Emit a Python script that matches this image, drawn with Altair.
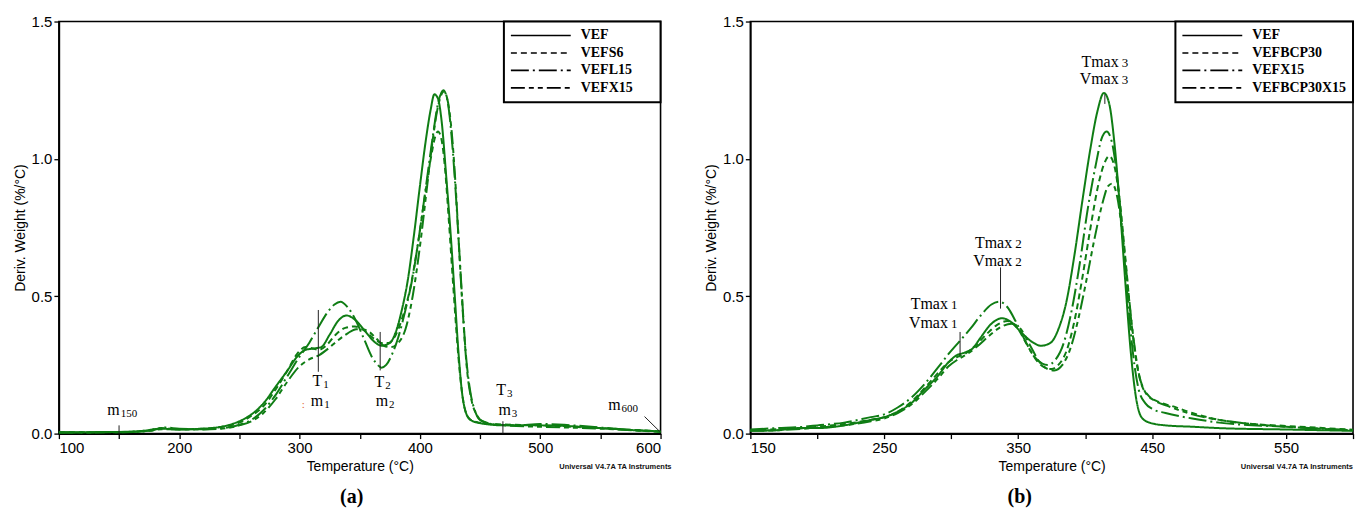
import altair as alt
import pandas as pd

GREEN = "#0f7d14"

# ---------------- Panel (a) data ----------------
A_SERIES = ["VEF", "VEFS6", "VEFL15", "VEFX15"]
DASHES = [[1, 0], [6, 4], [18, 4, 2, 4], [14, 4, 5, 4, 5, 4]]

a_T_vef = [100, 150, 170, 185, 200, 220, 240, 250, 260, 270, 280, 290, 298, 305, 312, 318, 325, 332, 339, 346,
           355, 362, 368, 375, 380, 385, 390, 395, 400, 405, 409, 412, 415, 418, 422, 426, 429, 432, 435, 438,
           442, 450, 470, 500, 520, 550, 580, 600]
a_v_vef = [0.005, 0.006, 0.01, 0.018, 0.015, 0.018, 0.03, 0.045, 0.07, 0.11, 0.17, 0.23, 0.28, 0.305, 0.31,
           0.315, 0.36, 0.41, 0.43, 0.415, 0.37, 0.335, 0.32, 0.33, 0.37, 0.45, 0.56, 0.72, 0.9, 1.07,
           1.18, 1.235, 1.22, 1.14, 0.93, 0.7, 0.5, 0.3, 0.15, 0.08, 0.05, 0.038, 0.03, 0.03, 0.028,
           0.02, 0.012, 0.008]

a_T_s6 = [100, 150, 175, 185, 200, 220, 240, 250, 260, 270, 280, 290, 298, 305, 311, 316, 322, 330, 338, 346,
          354, 362, 368, 374, 380, 386, 392, 398, 404, 409, 413, 415, 418, 421, 424, 428, 432, 436, 440, 445,
          460, 500, 550, 600]
a_v_s6 = [0.005, 0.006, 0.012, 0.02, 0.016, 0.018, 0.028, 0.04, 0.065, 0.1, 0.16, 0.23, 0.29, 0.315, 0.31,
          0.305, 0.32, 0.36, 0.385, 0.39, 0.375, 0.345, 0.33, 0.33, 0.36, 0.43, 0.53, 0.68, 0.86, 1.0,
          1.085, 1.1, 1.07, 0.96, 0.78, 0.52, 0.28, 0.12, 0.06, 0.045, 0.035, 0.03, 0.02, 0.008]

a_T_l15 = [100, 150, 175, 188, 200, 220, 240, 250, 260, 270, 280, 290, 300, 308, 316, 323, 329, 334, 340, 347,
           354, 360, 365, 368, 372, 377, 382, 388, 394, 400, 406, 411, 415, 419.5, 423, 426, 429, 432, 435, 438,
           442, 446, 450, 460, 480, 500, 520, 550, 580, 600]
a_v_l15 = [0.004, 0.005, 0.01, 0.022, 0.018, 0.016, 0.022, 0.032, 0.05, 0.085, 0.14, 0.21, 0.28, 0.33, 0.39,
           0.44, 0.47, 0.48, 0.46, 0.41, 0.34, 0.28, 0.25, 0.24, 0.25, 0.29, 0.35, 0.45, 0.57, 0.74,
           0.93, 1.09, 1.2, 1.25, 1.21, 1.1, 0.93, 0.72, 0.5, 0.3, 0.15, 0.08, 0.05, 0.035, 0.03,
           0.035, 0.032, 0.022, 0.012, 0.008]

a_T_x15 = [100, 150, 175, 185, 200, 220, 240, 250, 260, 270, 280, 290, 300, 308, 316, 324, 332, 340, 347, 352,
           358, 364, 370, 376, 382, 388, 394, 400, 406, 411, 415, 420, 424, 427, 430, 433, 436, 439, 443, 447,
           452, 470, 500, 550, 600]
a_v_x15 = [0.004, 0.005, 0.01, 0.016, 0.015, 0.015, 0.02, 0.03, 0.045, 0.075, 0.125, 0.19, 0.245, 0.27, 0.285,
           0.31, 0.34, 0.365, 0.38, 0.38, 0.37, 0.345, 0.32, 0.315, 0.33, 0.38, 0.5, 0.68, 0.9, 1.08,
           1.19, 1.245, 1.19, 1.07, 0.88, 0.64, 0.42, 0.24, 0.12, 0.07, 0.045, 0.03, 0.025, 0.018, 0.006]

# annotations (a)
A_ANN_MAIN = ["T", "m", "T", "m", "T", "m", "m", "m"]
A_ANN_SUB = ["1", "\u00a01", "2", "\u00a02", "3", "\u00a03", "150", "600"]
A_ANN_T = [318.9, 319.7, 370.3, 373.6, 471.5, 475.6, 150.6, 566.8]
A_ANN_V = [0.172, 0.1, 0.168, 0.1, 0.139, 0.069, 0.069, 0.087]
A_RULE_T = [315.6, 367.0, 469.0, 150.0]
A_RULE_V0 = [0.225, 0.23, 0.0, 0.0]
A_RULE_V1 = [0.45, 0.37, 0.045, 0.03]
A_DIAG_T = [586.7]
A_DIAG_T2 = [599.5]
A_DIAG_V = [0.062]
A_DIAG_V2 = [0.007]

# ---------------- Panel (b) data ----------------
B_SERIES = ["VEF", "VEFBCP30", "VEFX15", "VEFBCP30X15"]

b_T_vef = [150, 170, 185, 200, 220, 240, 250, 260, 270, 280, 290, 298, 304, 310, 316, 322, 330, 338, 345, 352,
           360, 367, 374, 380, 386, 392, 398, 404, 409, 414, 418, 422, 426, 430, 434, 438, 442, 448, 460, 480,
           500, 550, 600]
b_v_vef = [0.01, 0.012, 0.02, 0.02, 0.03, 0.05, 0.06, 0.08, 0.11, 0.16, 0.21, 0.26, 0.285, 0.295, 0.31, 0.35,
           0.40, 0.42, 0.405, 0.37, 0.335, 0.32, 0.33, 0.38, 0.48, 0.65, 0.85, 1.04, 1.17, 1.24, 1.2, 1.05,
           0.82, 0.55, 0.3, 0.13, 0.06, 0.04, 0.03, 0.025, 0.02, 0.015, 0.01]

b_T_bcp = [150, 170, 190, 200, 220, 240, 250, 260, 270, 280, 290, 298, 305, 310, 318, 326, 334, 342, 350, 357,
           364, 370, 375, 380, 386, 392, 398, 404, 410, 414, 418, 422, 426, 430, 434, 438, 442, 447, 455, 465,
           480, 500, 525, 550, 600]
b_v_bcp = [0.012, 0.016, 0.02, 0.025, 0.035, 0.05, 0.06, 0.08, 0.115, 0.165, 0.22, 0.26, 0.28, 0.29, 0.32, 0.36,
           0.395, 0.41, 0.38, 0.32, 0.265, 0.24, 0.235, 0.25, 0.3, 0.41, 0.57, 0.75, 0.91, 0.98, 1.01, 0.97,
           0.84, 0.64, 0.43, 0.27, 0.18, 0.14, 0.115, 0.1, 0.075, 0.05, 0.035, 0.028, 0.014]

b_T_x15 = [150, 170, 190, 200, 220, 240, 250, 260, 270, 280, 290, 298, 306, 314, 322, 330, 336, 342, 348, 355,
           362, 368, 372, 378, 384, 390, 396, 402, 408, 412, 416, 420, 424, 428, 432, 436, 440, 445, 450, 460,
           480, 500, 550, 600]
b_v_x15 = [0.015, 0.02, 0.025, 0.03, 0.04, 0.06, 0.07, 0.095, 0.13, 0.18, 0.24, 0.29, 0.335, 0.38, 0.43, 0.47,
           0.48, 0.46, 0.41, 0.34, 0.28, 0.255, 0.25, 0.27, 0.33, 0.45, 0.62, 0.82, 0.98, 1.07, 1.1, 1.06,
           0.93, 0.72, 0.48, 0.28, 0.16, 0.11, 0.09, 0.075, 0.055, 0.04, 0.025, 0.012]

b_T_bx = [150, 170, 190, 200, 220, 240, 250, 260, 270, 280, 290, 298, 305, 312, 320, 328, 336, 345, 352, 359,
          366, 372, 377, 383, 389, 395, 401, 407, 413, 417, 420, 424, 428, 432, 436, 440, 445, 452, 462, 480,
          500, 525, 550, 600]
b_v_bx = [0.01, 0.012, 0.018, 0.022, 0.03, 0.045, 0.055, 0.075, 0.105, 0.15, 0.2, 0.245, 0.27, 0.29, 0.32, 0.355,
          0.385, 0.40, 0.38, 0.32, 0.26, 0.235, 0.23, 0.25, 0.31, 0.42, 0.56, 0.71, 0.84, 0.9, 0.91, 0.86,
          0.72, 0.53, 0.35, 0.22, 0.15, 0.12, 0.1, 0.07, 0.05, 0.035, 0.025, 0.012]

B_ANN_MAIN = ["Tmax", "Vmax", "Tmax", "Vmax", "Tmax", "Vmax"]
B_ANN_SUB = ["1", "1", "2", "2", "3", "3"]
B_ANN_T = [297.5, 297.5, 345.5, 345.5, 425.0, 425.0]
B_ANN_V = [0.455, 0.385, 0.676, 0.611, 1.336, 1.273]
B_RULE_T = [306.6, 336.8, 414.7]
B_RULE_V0 = [0.285, 0.455, 1.20]
B_RULE_V1 = [0.37, 0.605, 1.235]

UNIV = "Universal V4.7A TA Instruments"
X_TITLE = "Temperature (°C)"
Y_TITLE = "Deriv. Weight (%/°C)"


def series_frame(names, Ts, vs):
    rows = []
    for name, T, v in zip(names, Ts, vs):
        for t, y in zip(T, v):
            rows.append({"series": name, "T": t, "v": y})
    return pd.DataFrame(rows)


def xenc(field, domain, values, label_expr):
    return alt.X(field, type="quantitative",
                 scale=alt.Scale(domain=domain, nice=False, zero=False),
                 axis=alt.Axis(values=values, labelExpr=label_expr, title=X_TITLE))


def yenc(field):
    return alt.Y(field, type="quantitative",
                 scale=alt.Scale(domain=[0, 1.5], nice=False, zero=False),
                 axis=alt.Axis(values=[0, 0.5, 1.0, 1.5], format=".1f", title=Y_TITLE))


def panel(df, series, domain, values, label_expr, ann, rules, width, height, caption, cap_dx,
          label_pad, sub_dy, sub_dx, main_size, sub_size, diag=None, extra=None, univ_align_x=0):
    X = lambda f: xenc(f, domain, values, label_expr)
    legend = alt.Legend(title=None, orient="top-right", offset=0, symbolType="stroke",
                        symbolSize=3600, symbolStrokeWidth=1.6, symbolStrokeColor="black",
                        clipHeight=16, rowPadding=1.5, labelOffset=9,
                        labelFont="Liberation Serif", labelFontWeight="bold", labelFontSize=14,
                        labelColor="black", labelExpr="datum.label + '" + label_pad + "'")
    lines = alt.Chart(df).mark_line(color=GREEN, strokeWidth=2, interpolate="monotone").encode(
        x=X("T"), y=yenc("v"),
        strokeDash=alt.StrokeDash("series:N", scale=alt.Scale(domain=series, range=DASHES),
                                  legend=legend, sort=series),
    )
    rule_layer = alt.Chart(rules).mark_rule(color="#222222", strokeWidth=1).encode(
        x=X("T"), y=yenc("v"), y2="v2")
    main_txt = alt.Chart(ann).mark_text(align="right", baseline="alphabetic", font="Liberation Serif",
                                        fontSize=main_size, color="black").encode(
        x=X("T"), y=yenc("v"), text="main:N")
    sub_txt = alt.Chart(ann).mark_text(align="left", baseline="alphabetic", font="Liberation Serif",
                                       fontSize=sub_size, color="black", dy=sub_dy, dx=sub_dx).encode(
        x=X("T"), y=yenc("v"), text="sub:N")
    univ = alt.Chart(pd.DataFrame({"t": [UNIV]})).mark_text(
        align="right", baseline="middle", font="Liberation Sans", fontSize=7.5, fontWeight="bold",
        color="#111111").encode(text="t:N", x=alt.value(width + univ_align_x), y=alt.value(height + 33))
    layers = [lines, rule_layer, main_txt, sub_txt, univ]
    if diag is not None:
        layers.append(alt.Chart(diag).mark_rule(color="#222222", strokeWidth=1).encode(
            x=X("T"), x2="T2", y=yenc("v"), y2="v2"))
    if extra is not None:
        layers.append(alt.Chart(extra).mark_text(font="Liberation Serif", fontSize=11,
                                                 color="#e0602a").encode(
            x=X("T"), y=yenc("v"), text="t:N"))
    return alt.layer(*layers).properties(
        width=width, height=height,
        title=alt.TitleParams(caption, orient="bottom", font="Liberation Serif", fontSize=20,
                              fontWeight="bold", color="black", offset=14, dx=cap_dx, anchor="middle"))


df_a = series_frame(A_SERIES, [a_T_vef, a_T_s6, a_T_l15, a_T_x15], [a_v_vef, a_v_s6, a_v_l15, a_v_x15])
df_b = series_frame(B_SERIES, [b_T_vef, b_T_bcp, b_T_x15, b_T_bx], [b_v_vef, b_v_bcp, b_v_x15, b_v_bx])

ann_a = pd.DataFrame({"main": A_ANN_MAIN, "sub": A_ANN_SUB, "T": A_ANN_T, "v": A_ANN_V})
rules_a = pd.DataFrame({"T": A_RULE_T, "v": A_RULE_V0, "v2": A_RULE_V1})
diag_a = pd.DataFrame({"T": A_DIAG_T, "T2": A_DIAG_T2, "v": A_DIAG_V, "v2": A_DIAG_V2})
extra_a = pd.DataFrame({"t": [":"], "T": [303.0], "v": [0.105]})

ann_b = pd.DataFrame({"main": B_ANN_MAIN, "sub": B_ANN_SUB, "T": B_ANN_T, "v": B_ANN_V})
rules_b = pd.DataFrame({"T": B_RULE_T, "v": B_RULE_V0, "v2": B_RULE_V1})

chart_a = panel(df_a, A_SERIES, [100, 600], list(range(100, 601, 50)),
                "datum.value % 100 == 0 ? datum.label : ''", ann_a, rules_a,
                603, 413, "(a)", -8, "\u00a0" * 6 + "\u200b", 2, 1, 16, 11, diag=diag_a, extra=extra_a,
                univ_align_x=11)
chart_b = panel(df_b, B_SERIES, [150, 600], list(range(150, 601, 50)),
                "datum.value % 100 == 50 ? datum.label : ''", ann_b, rules_b,
                604, 413, "(b)", -32, "", 0, 3, 16, 13, univ_align_x=0)

chart = alt.hconcat(chart_a, chart_b, spacing=90, bounds="flush").resolve_scale(
    x="independent", y="independent", strokeDash="independent"
).properties(
    padding={"left": 4, "top": 5, "right": 0, "bottom": 0}
).configure_view(
    stroke="black", strokeWidth=1.6
).configure_axis(
    grid=False, domainColor="black", domainWidth=1.6, tickColor="black", tickWidth=1.3, tickSize=5,
    labelColor="black", titleColor="black", labelFont="Liberation Sans", titleFont="Liberation Sans",
    labelFontSize=15, titleFontSize=14, titleFontWeight="normal", labelPadding=2, titlePadding=4
).configure_legend(
    strokeColor="black", strokeWidth=2, fillColor="white", padding=6, cornerRadius=0
)

chart.save("out.html", embed_options={"renderer": "svg", "actions": False})
